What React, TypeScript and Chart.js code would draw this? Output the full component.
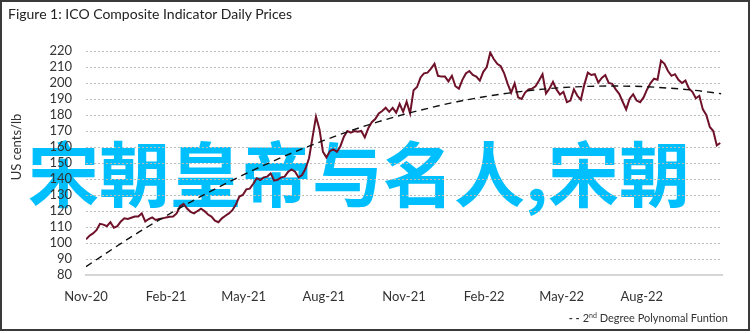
import React, { useEffect, useRef } from 'react';
import { Chart, registerables } from 'chart.js';

Chart.register(...registerables);

const TITLE = 'Figure 1: ICO Composite Indicator Daily Prices';
const Y_TITLE = 'US cents/lb';
const WATERMARK = '宋朝皇帝与名人,宋朝';
const LEGEND_PREFIX = '2';
const LEGEND_SUP = 'nd';
const LEGEND_REST = ' Degree Polynomal Funtion';

// ICO composite indicator, sampled every 4 days from the start date
const PRICE_START = '2020-11-01';
const PRICE_STEP_DAYS = 4;
const priceValues = [
  102.3, 104.5, 106, 108, 112, 111.5, 110.5, 113, 109.5, 110.5,
  113.5, 115.4, 115, 115.8, 116.5, 116.5, 118.5, 113.5, 115, 116,
  114.4, 115, 115.4, 116, 116.4, 116.5, 118.5, 123, 124.5, 121.5,
  119.5, 118.5, 120, 121.5, 120, 117.8, 116.5, 114, 113, 115.4,
  117, 118.5, 120.5, 124, 129, 130, 133.5, 134, 137, 140.5,
  139.4, 141, 141.5, 143.5, 139, 139.5, 141, 141.5, 144.5, 146,
  144.6, 141, 142.5, 146.5, 153, 166, 179, 171, 157, 153.5,
  157.5, 158.5, 157, 160.5, 166.5, 170, 169, 170, 169.5, 170,
  166, 171.7, 175.5, 177.5, 181, 182.5, 184.5, 182, 184.5, 181.5,
  187, 182, 188.3, 181, 195.5, 197.5, 203.5, 206, 206.5, 209,
  212, 204.5, 204, 204, 201, 204.5, 198, 196.5, 202, 206,
  207.5, 205, 204, 201.5, 207, 210, 219, 215, 212, 210.5,
  206, 199.5, 194, 199.8, 191, 190, 194, 196, 196.5, 198,
  201.5, 205.5, 193.5, 196.5, 200.8, 196, 192.8, 194.5, 188, 189,
  196, 192, 189.5, 199, 206.5, 205, 205.5, 200.3, 203.2, 205,
  200, 199.5, 196, 193.2, 188.3, 183.5, 190.2, 193, 189, 188,
  191, 196, 200, 202.7, 202, 214, 212, 207.5, 204.5, 205.5,
  202, 200, 201.5, 196.6, 194.5, 190.5, 192, 183.5, 180, 172.5,
  170, 161, 162.5,
];

// 2nd degree polynomial trend, read monthly
const trendDates = [
  '2020-11-01', '2020-12-01', '2021-01-01', '2021-02-01', '2021-03-01', '2021-04-01',
  '2021-05-01', '2021-06-01', '2021-07-01', '2021-08-01', '2021-09-01', '2021-10-01',
  '2021-11-01', '2021-12-01', '2022-01-01', '2022-02-01', '2022-03-01', '2022-04-01',
  '2022-05-01', '2022-06-01', '2022-07-01', '2022-08-01', '2022-09-01', '2022-10-01',
  '2022-10-31',
];
const trendValues = [
  85.2, 96.1, 106.9, 117.0, 125.6, 134.6, 142.7, 150.5, 157.5, 164.1, 170.2, 175.5,
  180.4, 184.5, 188.3, 191.4, 193.7, 195.7, 197.1, 197.9, 198.1, 197.8, 196.8, 195.4,
  193.3,
];

const tickDates = [
  '2020-11-01', '2021-02-01', '2021-05-01', '2021-08-01',
  '2021-11-01', '2022-02-01', '2022-05-01', '2022-08-01',
];
const tickLabels = ['Nov-20', 'Feb-21', 'May-21', 'Aug-21', 'Nov-21', 'Feb-22', 'May-22', 'Aug-22'];

const AXIS_END = '2022-11-01';
const Y_MIN = 80;
const Y_MAX = 220;
const Y_STEP = 10;

const dayOf = (d: string) => (Date.parse(d) - Date.parse(PRICE_START)) / 86400000;

const FONT = 'Lato, "Noto Sans", sans-serif';

export default function App() {
  const ref = useRef<HTMLCanvasElement>(null);

  useEffect(() => {
    const canvas = ref.current;
    if (!canvas) return;
    const priceData = priceValues.map((v, i) => ({ x: i * PRICE_STEP_DAYS, y: v }));
    const trendData = trendValues.map((v, i) => ({ x: dayOf(trendDates[i]), y: v }));
    const tickDays = tickDates.map(dayOf);

    const chart = new Chart(canvas, {
      type: 'line',
      data: {
        datasets: [
          {
            label: 'ICO Composite Indicator',
            data: priceData,
            borderColor: '#6e1129',
            borderWidth: 2,
            pointRadius: 0,
            tension: 0,
            order: 2,
          },
          {
            label: '2nd Degree Polynomal Funtion',
            data: trendData,
            borderColor: '#111111',
            borderWidth: 1.4,
            borderDash: [7, 5],
            pointRadius: 0,
            cubicInterpolationMode: 'monotone',
            order: 1,
          },
        ],
      },
      options: {
        animation: false,
        responsive: false,
        maintainAspectRatio: false,
        layout: { padding: { top: 51, right: 33, bottom: 0, left: 0 } },
        plugins: { legend: { display: false }, tooltip: { enabled: false } },
        scales: {
          x: {
            type: 'linear',
            min: 0,
            max: dayOf(AXIS_END),
            afterBuildTicks: (scale: any) => {
              scale.ticks = tickDays.map((v) => ({ value: v }));
            },
            afterFit: (scale: any) => {
              scale.height = 58;
            },
            ticks: {
              autoSkip: false,
              maxRotation: 0,
              padding: 14,
              color: '#333333',
              font: { family: FONT, size: 13 },
              callback: (value: any) => {
                const idx = tickDays.indexOf(Number(value));
                return idx >= 0 ? tickLabels[idx] : '';
              },
            },
            grid: { display: false, drawTicks: false },
            border: { display: true, color: '#d6d6d6', width: 2 },
          },
          y: {
            min: Y_MIN,
            max: Y_MAX,
            afterFit: (scale: any) => {
              scale.width = 86;
            },
            ticks: {
              stepSize: Y_STEP,
              autoSkip: false,
              padding: 14,
              color: '#333333',
              font: { family: FONT, size: 13 },
            },
            grid: { color: '#bcbcbc', lineWidth: 1, drawTicks: false, borderDash: [2, 2] } as any,
            border: { display: false, dash: [2, 2] },
          },
        },
      },
    });
    return () => chart.destroy();
  }, []);

  return (
    <div style={{ position: 'absolute', left: 0, top: 0, width: 755, height: 333, background: '#ffffff', overflow: 'hidden' }}>
      <div
        style={{
          position: 'absolute', left: 28, top: 135, fontSize: 71, lineHeight: '71px', fontWeight: 700,
          color: '#00bfff', fontFamily: '"Noto Sans CJK SC", sans-serif', whiteSpace: 'nowrap',
        }}
      >
        {WATERMARK}
      </div>
      <canvas ref={ref} width={755} height={333} style={{ position: 'absolute', left: 0, top: 0, width: 755, height: 333 }} />
      <div style={{ position: 'absolute', left: 0, top: 0, width: 746, height: 327, border: '2px solid #3a3a3a' }} />
      <div
        style={{
          position: 'absolute', left: 8, top: 5, fontSize: 14, lineHeight: '18px', color: '#222222',
          fontFamily: FONT, whiteSpace: 'nowrap',
        }}
      >
        {TITLE}
      </div>
      <div
        style={{
          position: 'absolute', left: 16, top: 147, width: 0, height: 0,
        }}
      >
        <div
          style={{
            position: 'absolute', left: 0, top: 0, transform: 'translate(-50%, -50%) rotate(-90deg)',
            fontSize: 13, lineHeight: '16px', color: '#333333', fontFamily: FONT, whiteSpace: 'nowrap',
          }}
        >
          {Y_TITLE}
        </div>
      </div>
      <div
        style={{
          position: 'absolute', right: 27, top: 310, fontSize: 11, lineHeight: '16px', color: '#333333',
          fontFamily: FONT, whiteSpace: 'nowrap',
        }}
      >
        <span style={{ fontWeight: 700, marginRight: 3 }}>- -</span>
        {LEGEND_PREFIX}
        <sup style={{ fontSize: 7, verticalAlign: 'top', lineHeight: '10px' }}>{LEGEND_SUP}</sup>
        {LEGEND_REST}
      </div>
    </div>
  );
}
